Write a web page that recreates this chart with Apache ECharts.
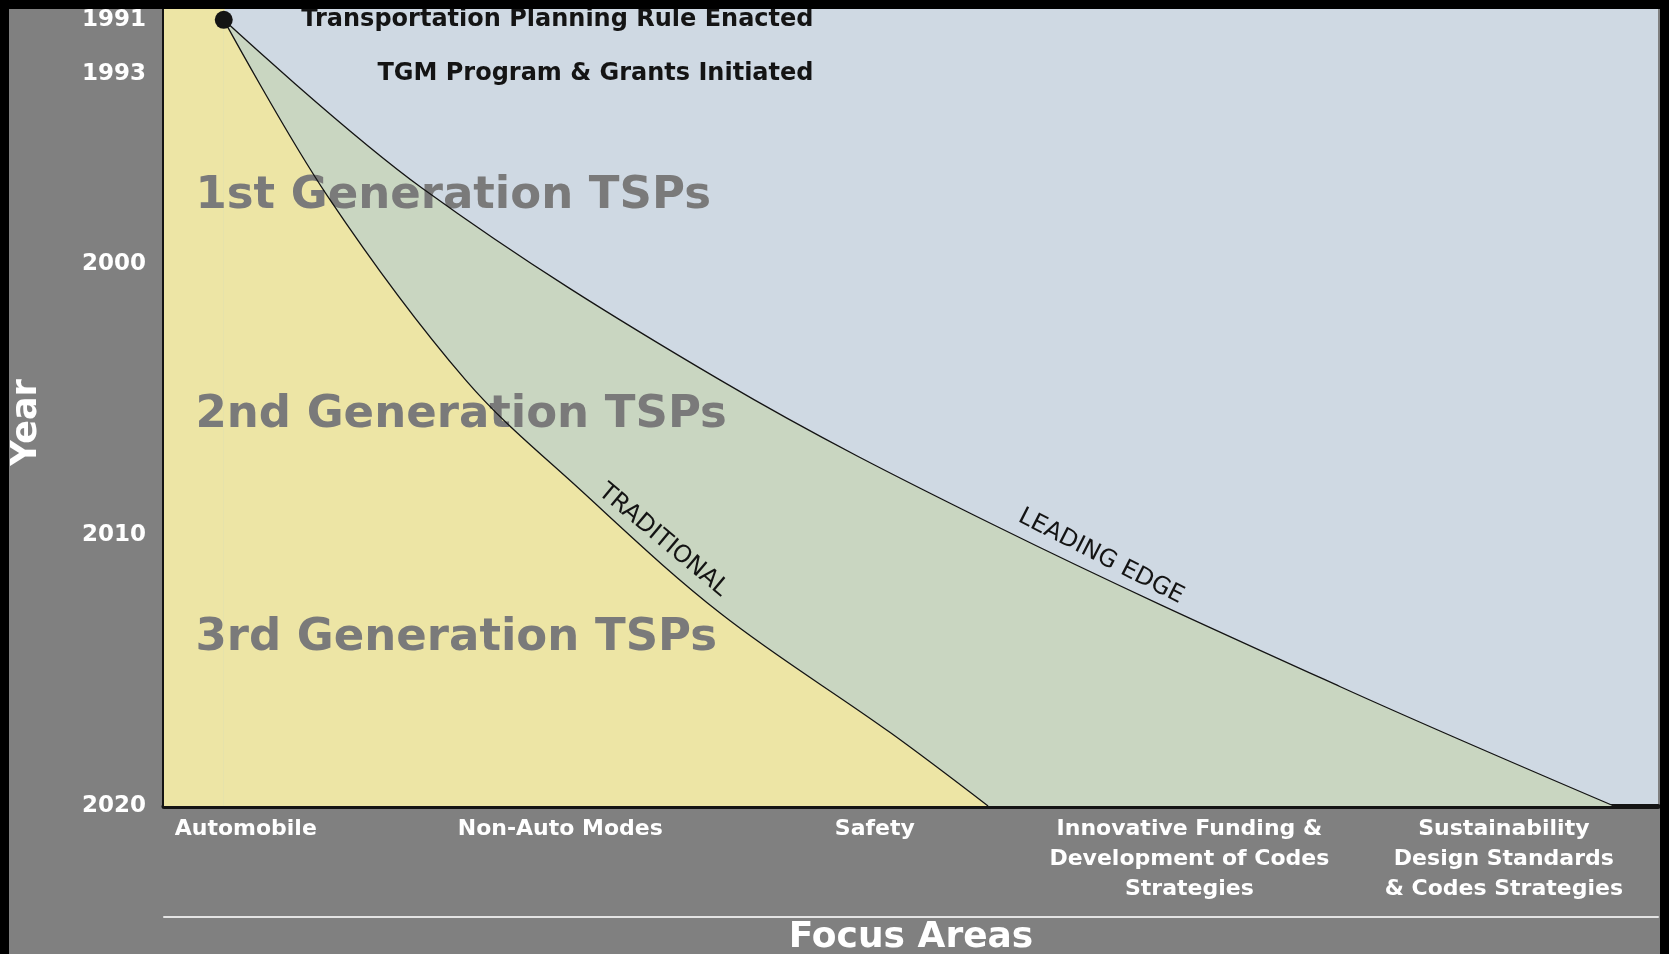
<!DOCTYPE html>
<html>
<head>
<meta charset="utf-8">
<script src="https://cdn.jsdelivr.net/npm/echarts@6/dist/echarts.min.js"></script>
<style>
  html, body { margin: 0; padding: 0; background: #000; width: 1669px; height: 954px; overflow: hidden; }
  #panel { position: absolute; left: 9px; top: 9px; width: 1651px; height: 945px; background: #808080; }
  #chart { width: 1651px; height: 945px; }
</style>
</head>
<body>
<div id="panel"><div id="chart"></div></div>
<script>
// ---- data ----
const focusAreas = [
  'Automobile',
  'Non-Auto Modes',
  'Safety',
  'Innovative Funding &\nDevelopment of Codes\nStrategies',
  'Sustainability\nDesign Standards\n& Codes Strategies'
];
const yearTicks = [1991, 1993, 2000, 2010, 2020];

// boundary curves: x = position along the focus-area axis, year on the time axis
const traditionalX    = [-0.07, 0.26, 0.70, 1.06, 1.51, 2.05, 2.36];
const traditionalYear = [1991.0, 1997.5, 2004.3, 2008.3, 2012.9, 2017.3, 2020.0];
const leadingX        = [-0.07, 0.56, 1.51, 2.39, 3.48, 4.35];
const leadingYear     = [1991.0, 1997.2, 2004.3, 2009.7, 2015.6, 2020.0];

const eventYears  = [1991, 1993];
const eventLabels = ['Transportation Planning Rule Enacted', 'TGM Program & Grants Initiated'];

const generationLabels = ['1st Generation TSPs', '2nd Generation TSPs', '3rd Generation TSPs'];
const generationYears  = [1997.5, 2005.6, 2013.8];

const curveLabels = ['TRADITIONAL', 'LEADING EDGE'];

// ---- styling ----
const YELLOW = '#ede5a5';
const GREEN  = '#c9d6c1';
const BLUE   = '#cfd9e3';
const INK    = '#141414';
const FONT   = '"DejaVu Sans", "Liberation Sans", Arial, sans-serif';
const X_MIN = -0.26, X_MAX = 4.49, Y_MIN = 1990.6, Y_MAX = 2020;
const SMOOTH = 0.35;

const zip = (xs, ys) => xs.map((x, i) => [x, ys[i]]);
const traditional = zip(traditionalX, traditionalYear);
const leading = zip(leadingX, leadingYear);
const origin = traditional[0];

const chart = echarts.init(document.getElementById('chart'), null, { renderer: 'canvas' });

const textScatter = (extra) => Object.assign({
  type: 'scatter', silent: true, symbolSize: 0,
  itemStyle: { opacity: 1 },
  emphasis: { disabled: true }
}, extra);

const option = {
  animation: false,
  backgroundColor: 'transparent',
  grid: {
    left: 155, right: 2, top: 0, bottom: 148,
    show: true, backgroundColor: BLUE, borderWidth: 0,
    containLabel: false, outerBoundsMode: 'none'
  },
  xAxis: [
    {
      type: 'value', min: X_MIN, max: X_MAX, position: 'bottom',
      axisLine: { show: true, onZero: false, lineStyle: { color: INK, width: 5 } },
      axisTick: { show: false },
      splitLine: { show: false },
      axisLabel: {
        customValues: focusAreas.map((_, i) => i),
        formatter: v => focusAreas[Math.round(v)],
        color: '#ffffff', fontFamily: FONT, fontWeight: 'bold', fontSize: 22,
        lineHeight: 30, align: 'center', margin: 8
      }
    },
    {
      type: 'value', min: X_MIN, max: X_MAX, position: 'bottom', offset: 111,
      axisLine: { show: true, onZero: false, lineStyle: { color: '#e4e4e4', width: 2 } },
      axisTick: { show: false }, splitLine: { show: false }, axisLabel: { show: false },
      name: 'Focus Areas', nameLocation: 'middle', nameGap: 3,
      nameTextStyle: { color: '#ffffff', fontFamily: FONT, fontWeight: 'bold', fontSize: 36 }
    }
  ],
  yAxis: {
    type: 'value', inverse: true, min: Y_MIN, max: Y_MAX,
    axisLine: { show: true, onZero: false, lineStyle: { color: INK, width: 4 } },
    axisTick: { show: false },
    splitLine: { show: false },
    axisLabel: {
      customValues: yearTicks,
      formatter: v => String(v),
      color: '#ffffff', fontFamily: FONT, fontWeight: 'bold', fontSize: 23, margin: 18
    },
    name: 'Year', nameLocation: 'middle', nameRotate: 90, nameGap: 120,
    nameTextStyle: { color: '#ffffff', fontFamily: FONT, fontWeight: 'bold', fontSize: 35, padding: [0, 30, 0, 0] }
  },
  series: [
    {
      name: 'left strip', type: 'custom', z: 1, silent: true,
      data: [origin],
      renderItem: (params, api) => {
        const cs = params.coordSys;
        const p = api.coord([api.value(0), api.value(1)]);
        return { type: 'rect', shape: { x: cs.x, y: cs.y, width: p[0] - cs.x + 1, height: cs.height },
                 style: { fill: YELLOW } };
      }
    },
    {
      name: 'leading area', type: 'line', z: 2, silent: true, data: leading,
      smooth: SMOOTH, symbol: 'none', lineStyle: { width: 0 },
      areaStyle: { color: GREEN, opacity: 1, origin: 'end' }
    },
    {
      name: 'traditional area', type: 'line', z: 3, silent: true, data: traditional,
      smooth: SMOOTH, symbol: 'none', lineStyle: { width: 0 },
      areaStyle: { color: YELLOW, opacity: 1, origin: 'end' }
    },
    textScatter({
      name: 'generations', z: 4,
      data: generationYears.map((y, i) => ({ value: [-0.16, y], name: generationLabels[i] })),
      label: {
        show: true, position: 'right', distance: 0, formatter: p => p.name, opacity: 1,
        color: '#7a7a7a', fontFamily: FONT, fontWeight: 'bold', fontSize: 45
      }
    }),
    {
      name: 'leading edge', type: 'line', z: 5, silent: true, data: leading,
      smooth: SMOOTH, symbol: 'none', lineStyle: { color: INK, width: 1.3 }
    },
    {
      name: 'traditional', type: 'line', z: 5, silent: true, data: traditional,
      smooth: SMOOTH, symbol: 'none', lineStyle: { color: INK, width: 1.3 }
    },
    textScatter({
      name: 'curve labels', z: 6,
      data: [
        { value: [1.327, 2010.2], name: curveLabels[0], label: { rotate: -40 } },
        { value: [2.719, 2010.8], name: curveLabels[1], label: { rotate: -27 } }
      ],
      label: {
        show: true, position: 'inside', formatter: p => p.name, opacity: 1,
        color: INK, fontFamily: FONT, fontSize: 24
      }
    }),
    textScatter({
      name: 'events', z: 7,
      data: eventYears.map((y, i) => ({ value: [1.805, y], name: eventLabels[i] })),
      label: {
        show: true, position: 'left', distance: 0, formatter: p => p.name, opacity: 1,
        color: INK, fontFamily: FONT, fontWeight: 'bold', fontSize: 24
      }
    }),
    {
      name: 'origin', type: 'scatter', z: 8, silent: true, symbolSize: 18,
      data: [origin], itemStyle: { color: INK, opacity: 1 }
    }
  ]
};
chart.setOption(option);
</script>
</body>
</html>
